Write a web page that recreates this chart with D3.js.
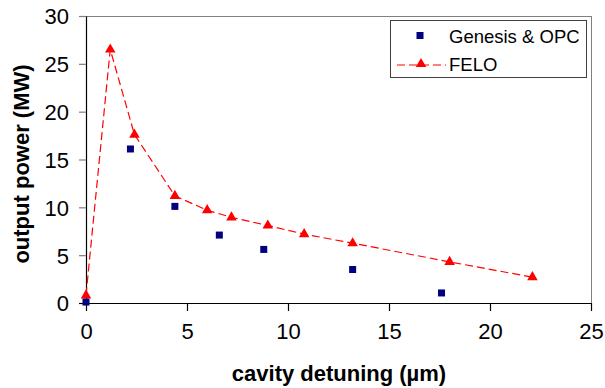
<!DOCTYPE html>
<html>
<head>
<meta charset="utf-8">
<script src="https://cdn.jsdelivr.net/npm/d3@7/dist/d3.min.js"></script>
<style>
  html, body { margin: 0; padding: 0; background: #fff; }
  svg { display: block; font-family: "Liberation Sans", Arial, sans-serif; }
</style>
</head>
<body>
<svg id="chart" width="605" height="388"></svg>
<script>
// Genesis & OPC simulation results
const genesisX = [0, 2.2, 4.4, 6.6, 8.8, 13.2, 17.6];
const genesisY = [0.1, 16.1, 10.1, 7.1, 5.6, 3.5, 1.05];

// FELO results
const feloX = [0, 1.2, 2.4, 4.4, 6.0, 7.2, 9.0, 10.8, 13.2, 18.0, 22.1];
const feloY = [0.8, 26.5, 17.6, 11.2, 9.7, 8.95, 8.1, 7.2, 6.25, 4.3, 2.7];

const xTicks = [0, 5, 10, 15, 20, 25];
const yTicks = [0, 5, 10, 15, 20, 25, 30];

const xTitle = "cavity detuning (µm)";
const yTitle = "output power (MW)";
const seriesNames = ["Genesis & OPC", "FELO"];

const svg = d3.select("#chart");
const plotL = 86, plotR = 591, plotT = 16, plotB = 303;

const x = d3.scaleLinear().domain([0, 25]).range([plotL, plotR]);
const y = d3.scaleLinear().domain([0, 30]).range([plotB, plotT]);

// plot frame: grey top/right edges
svg.append("line").attr("x1", plotL).attr("x2", plotR).attr("y1", plotT + 0.5).attr("y2", plotT + 0.5)
  .attr("stroke", "#808080").attr("stroke-width", 1);
svg.append("line").attr("x1", plotR + 0.5).attr("x2", plotR + 0.5).attr("y1", plotT).attr("y2", plotB)
  .attr("stroke", "#808080").attr("stroke-width", 1);

// axes
const xAxis = svg.append("g").attr("transform", `translate(0,${plotB})`)
  .call(d3.axisBottom(x).tickValues(xTicks).tickSizeInner(8).tickSizeOuter(0).tickPadding(12));
const yAxis = svg.append("g").attr("transform", `translate(${plotL},0)`)
  .call(d3.axisLeft(y).tickValues(yTicks).tickSizeInner(7).tickSizeOuter(0).tickPadding(10));

[xAxis, yAxis].forEach(g => {
  g.select(".domain").attr("stroke", "#000").attr("stroke-width", 1.2);
  g.selectAll(".tick line").attr("stroke", "#000").attr("stroke-width", 1.2);
  g.selectAll(".tick text").attr("fill", "#000")
    .style("font-family", "'Liberation Sans', Arial, sans-serif").style("font-size", "22px");
});
yAxis.selectAll(".tick text").attr("dy", "0.36em");
yAxis.selectAll(".tick line").attr("stroke", "#808080");
yAxis.selectAll(".tick").filter(d => d === 0).select("line").attr("stroke", "#000");

// axis titles
svg.append("text").attr("x", 339).attr("y", 381)
  .attr("text-anchor", "middle").attr("font-weight", "bold").attr("font-size", "22px")
  .text(xTitle);
svg.append("text").attr("transform", "translate(29,164) rotate(-90)")
  .attr("text-anchor", "middle").attr("font-weight", "bold").attr("font-size", "22px")
  .text(yTitle);

// FELO dashed line
const felo = feloX.map((v, i) => [v, feloY[i]]);
svg.append("path").datum(felo)
  .attr("d", d3.line().x(d => x(d[0])).y(d => y(d[1])))
  .attr("fill", "none").attr("stroke", "#ff0000").attr("stroke-width", 1.2)
  .attr("stroke-dasharray", "8,4");

const tri = d3.symbol().type(d3.symbolTriangle).size(48);
svg.append("g").selectAll("path").data(felo).join("path")
  .attr("d", tri)
  .attr("transform", d => `translate(${x(d[0])},${y(d[1])})`)
  .attr("fill", "#ff0000");

// Genesis & OPC squares
const gen = genesisX.map((v, i) => [v, genesisY[i]]);
svg.append("g").selectAll("rect").data(gen).join("rect")
  .attr("x", d => x(d[0]) - 3.5).attr("y", d => y(d[1]) - 3.5)
  .attr("width", 7).attr("height", 7).attr("fill", "#000080");

// legend
const lg = svg.append("g");
lg.append("rect").attr("x", 390.5).attr("y", 20.5).attr("width", 196).attr("height", 57)
  .attr("fill", "#fff").attr("stroke", "#404040").attr("stroke-width", 1);
lg.append("rect").attr("x", 416.5).attr("y", 32).attr("width", 7).attr("height", 7).attr("fill", "#000080");
lg.append("line").attr("x1", 397).attr("x2", 446).attr("y1", 65).attr("y2", 65)
  .attr("stroke", "#ff0000").attr("stroke-width", 1.2).attr("stroke-dasharray", "8,4");
lg.append("path").attr("d", tri).attr("transform", "translate(421,64)").attr("fill", "#ff0000");
lg.selectAll("text.lbl").data(seriesNames).join("text").attr("class", "lbl")
  .attr("x", 449).attr("y", (d, i) => 36 + i * 28.5).attr("dy", "0.36em")
  .attr("font-size", "18.5px").attr("fill", "#000").text(d => d);
</script>
</body>
</html>
